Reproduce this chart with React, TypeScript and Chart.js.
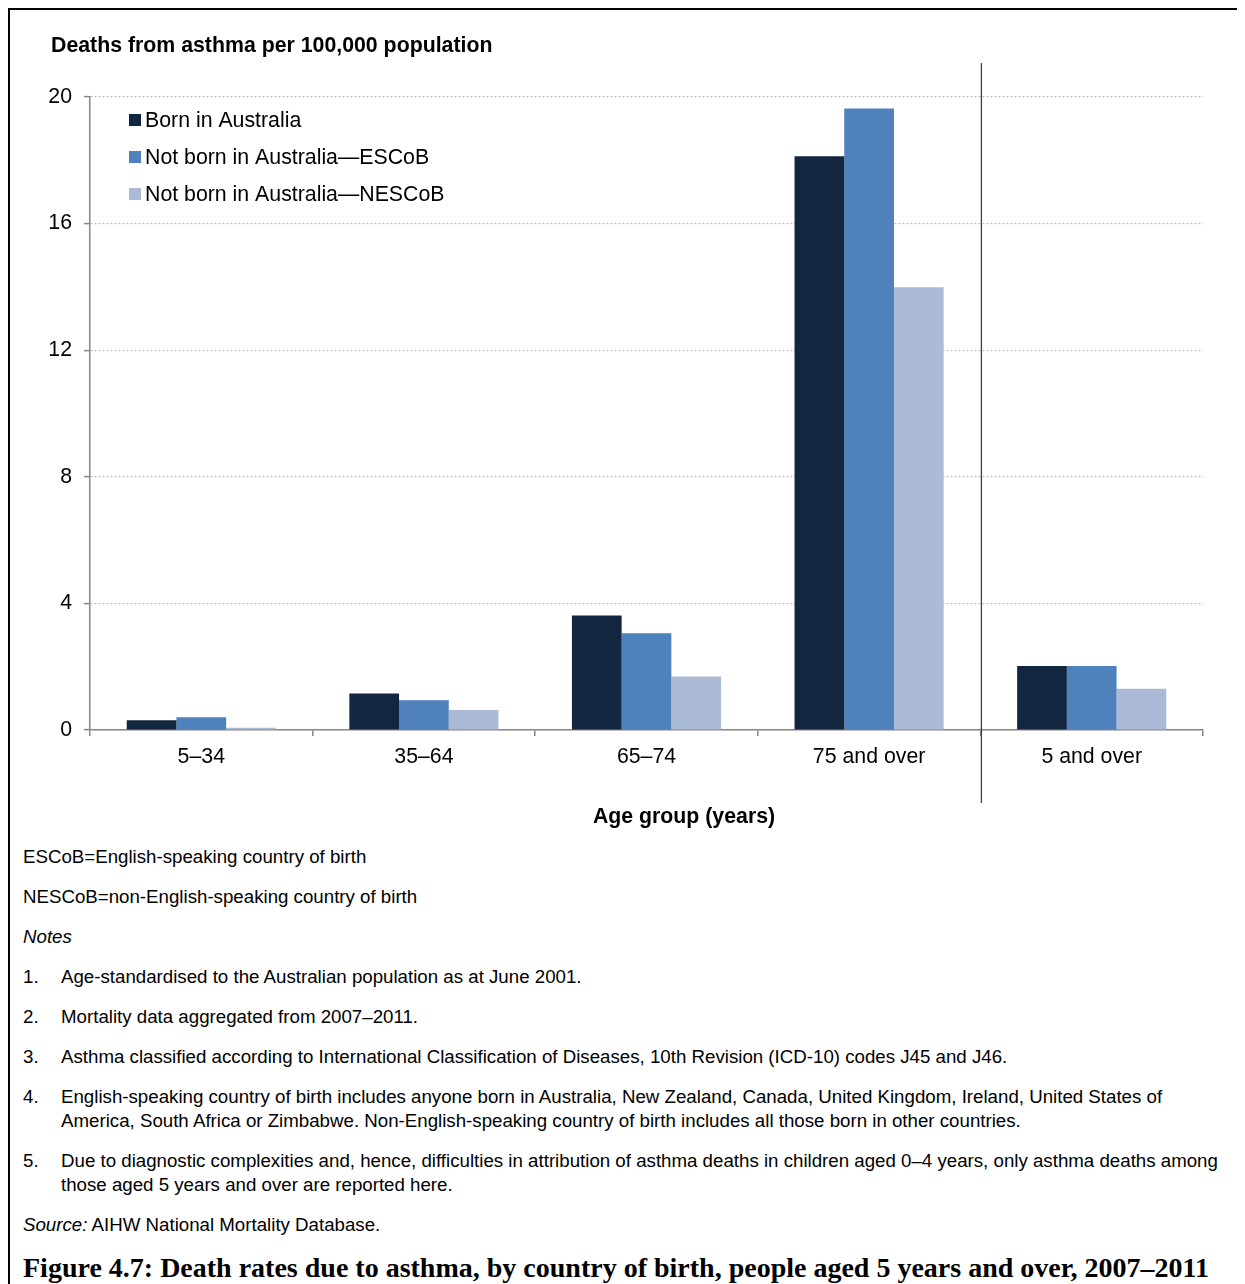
import React, { useEffect, useRef } from "react";
import { Chart, registerables } from "chart.js";

Chart.register(...registerables);

const categories = ["5–34", "35–64", "65–74", "75 and over", "5 and over"];
const seriesNames = [
  "Born in Australia",
  "Not born in Australia—ESCoB",
  "Not born in Australia—NESCoB",
];
const bornInAustralia = [0.31, 1.15, 3.62, 18.13, 2.02];
const escob = [0.4, 0.94, 3.06, 19.64, 2.02];
const nescob = [0.07, 0.63, 1.69, 13.99, 1.3];
const seriesColors = ["#13263f", "#4f81bd", "#aabad7"];
const yTicks = [0, 4, 8, 12, 16, 20];

const yAxisTitle = "Deaths from asthma per 100,000 population";
const xAxisTitle = "Age group (years)";

const abbreviations = [
  "ESCoB=English-speaking country of birth",
  "NESCoB=non-English-speaking country of birth",
];
const notes: string[][] = [
  ["Age-standardised to the Australian population as at June 2001."],
  ["Mortality data aggregated from 2007–2011."],
  [
    "Asthma classified according to International Classification of Diseases, 10th Revision (ICD-10) codes J45 and J46.",
  ],
  [
    "English-speaking country of birth includes anyone born in Australia, New Zealand, Canada, United Kingdom, Ireland, United States of",
    "America, South Africa or Zimbabwe. Non-English-speaking country of birth includes all those born in other countries.",
  ],
  [
    "Due to diagnostic complexities and, hence, difficulties in attribution of asthma deaths in children aged 0–4 years, only asthma deaths among",
    "those aged 5 years and over are reported here.",
  ],
];
const sourceLabel = "Source:";
const sourceText = " AIHW National Mortality Database.";
const figureTitle =
  "Figure 4.7: Death rates due to asthma, by country of birth, people aged 5 years and over, 2007–2011";

const SANS = "'Liberation Sans', Arial, sans-serif";
const FS = 21.3;

export default function App() {
  const ref = useRef<HTMLCanvasElement>(null);

  useEffect(() => {
    document.documentElement.style.overflow = "hidden";
    const canvas = ref.current!;
    const decor = {
      id: "decor",
      afterDraw(chart: any) {
        const ctx = chart.ctx;
        const x = chart.scales.x;
        ctx.save();
        // y-axis title
        ctx.fillStyle = "#000";
        ctx.font = `bold ${FS}px ${SANS}`;
        ctx.textBaseline = "middle";
        ctx.textAlign = "left";
        ctx.fillText(yAxisTitle, 41, 36);
        // x-axis title
        ctx.textAlign = "center";
        ctx.fillText(xAxisTitle, 674, 807);
        // legend
        ctx.font = `${FS}px ${SANS}`;
        ctx.textAlign = "left";
        chart.data.datasets.forEach((ds: any, i: number) => {
          const cy = 110 + i * 37;
          ctx.fillStyle = ds.backgroundColor;
          ctx.fillRect(119, cy - 6, 12, 12);
          ctx.fillStyle = "#000";
          ctx.fillText(ds.label, 135, cy + 1);
        });
        // separator line between categories 4 and 5
        const sx = (x.getPixelForValue(3) + x.getPixelForValue(4)) / 2 + 1;
        ctx.strokeStyle = "#404040";
        ctx.lineWidth = 1.3;
        ctx.beginPath();
        ctx.moveTo(sx, 53);
        ctx.lineTo(sx, 793);
        ctx.stroke();
        ctx.restore();
      },
    };
    const chart = new Chart(canvas, {
      type: "bar",
      data: {
        labels: categories,
        datasets: [bornInAustralia, escob, nescob].map((d, i) => ({
          label: seriesNames[i],
          data: d,
          backgroundColor: seriesColors[i],
          borderWidth: 0,
          categoryPercentage: 0.67,
          barPercentage: 1,
        })),
      },
      options: {
        responsive: false,
        animation: false,
        devicePixelRatio: 1,
        layout: { padding: { top: 87, right: 42, left: 0, bottom: 0 } },
        plugins: {
          legend: { display: false },
          tooltip: { enabled: false },
          title: { display: false },
        },
        scales: {
          x: {
            offset: true,
            grid: {
              offset: true,
              drawOnChartArea: false,
              drawTicks: true,
              tickLength: 6,
              color: "#868686",
              lineWidth: 1.5,
            },
            border: { color: "#868686", width: 1.5 },
            ticks: {
              color: "#000",
              font: { family: SANS, size: FS },
              padding: 8,
              maxRotation: 0,
            },
            afterFit(scale: any) {
              scale.height = 110;
            },
          },
          y: {
            min: 0,
            max: 20,
            afterBuildTicks(scale: any) {
              scale.ticks = yTicks.map((v) => ({ value: v }));
            },
            grid: {
              color: "#c0c0c0",
              lineWidth: 1.2,
              tickColor: "#868686",
              tickBorderDash: [],
              tickLength: 6,
              tickWidth: 1.5,
            },
            border: { color: "#868686", width: 1.5, dash: [2, 2] },
            ticks: {
              color: "#000",
              font: { family: SANS, size: FS },
              padding: 12,
            },
            afterFit(scale: any) {
              scale.width = 80;
            },
          },
        },
      },
      plugins: [decor],
    } as any);
    return () => chart.destroy();
  }, []);

  const lineStyle: React.CSSProperties = {
    lineHeight: "24px",
    marginBottom: 16,
    whiteSpace: "nowrap",
  };

  return (
    <div
      style={{
        position: "relative",
        width: 1245,
        height: 1300,
        borderTop: "2px solid #000",
        borderLeft: "2px solid #000",
        fontFamily: SANS,
        color: "#000",
      }}
    >
      <canvas
        ref={ref}
        width={1235}
        height={830}
        style={{ position: "absolute", left: 0, top: 0 }}
      />
      <div
        style={{
          position: "absolute",
          left: 13,
          top: 835,
          fontSize: 18.7,
        }}
      >
        {abbreviations.map((a) => (
          <div key={a} style={lineStyle}>
            {a}
          </div>
        ))}
        <div style={{ ...lineStyle, fontStyle: "italic" }}>Notes</div>
        {notes.map((lines, i) => (
          <div key={i} style={{ ...lineStyle, display: "flex" }}>
            <div style={{ width: 38 }}>{i + 1}.</div>
            <div>
              {lines.map((l, j) => (
                <div key={j}>{l}</div>
              ))}
            </div>
          </div>
        ))}
        <div style={lineStyle}>
          <i>{sourceLabel}</i>
          {sourceText}
        </div>
        <div
          style={{
            fontFamily: "'Liberation Serif', 'Times New Roman', serif",
            fontWeight: "bold",
            fontSize: 28,
            lineHeight: "30px",
            whiteSpace: "nowrap",
          }}
        >
          {figureTitle}
        </div>
      </div>
    </div>
  );
}
